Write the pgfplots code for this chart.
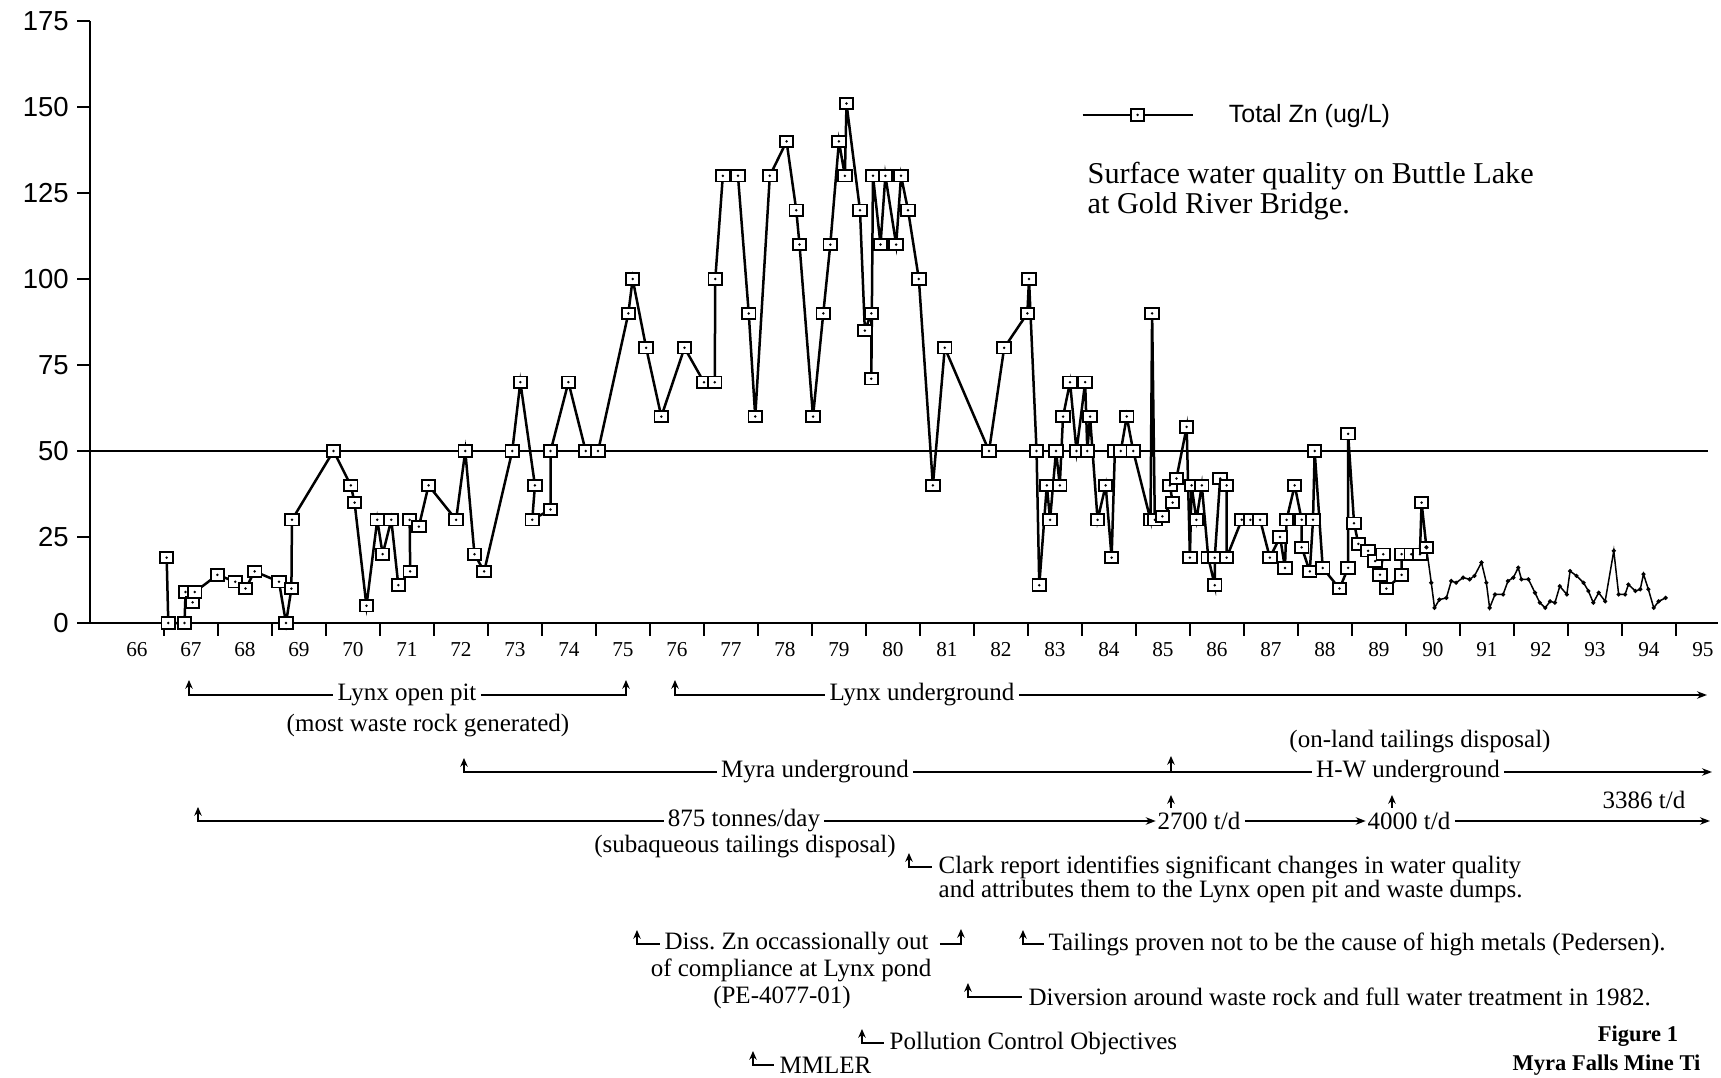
\documentclass[border=0pt]{standalone}
\usepackage{pgfplots}
\pgfplotsset{compat=1.18}
\usepackage{fontspec}
\setmainfont{Liberation Serif}
\newfontfamily\sansf{Liberation Sans}
\usetikzlibrary{arrows.meta}
\frenchspacing

\pgfdeclareplotmark{sqdot}{%
  \pgfpathrectangle{\pgfqpoint{-2.7pt}{-2.3pt}}{\pgfqpoint{5.4pt}{4.6pt}}%
  \pgfusepathqfillstroke
  \pgfscope
  \pgfsetfillcolor{black}%
  \pgfpathcircle{\pgfpointorigin}{0.55pt}%
  \pgfusepathqfill
  \endpgfscope}

\begin{document}
\begin{tikzpicture}
\path[use as bounding box] (0,0) rectangle (688.4pt,-431.2pt);
\begin{axis}[
  at={(36pt,-249.2pt)}, anchor=south west,
  scale only axis, width=651.2pt, height=240.8pt,
  xmin=65.13, xmax=95.28, ymin=0, ymax=175,
  axis x line=bottom, axis y line=left,
  axis line style={-, line width=0.9pt},
  tick align=outside,
  major tick style={line width=0.8pt, black},
  major tick length=5pt,
  xtick={66.5,67.5,...,94.5}, xticklabels={},
  extra x ticks={66,67,68,69,70,71,72,73,74,75,76,77,78,79,80,81,82,83,84,85,86,87,88,89,90,91,92,93,94,95},
  extra x tick labels={66,67,68,69,70,71,72,73,74,75,76,77,78,79,80,81,82,83,84,85,86,87,88,89,90,91,92,93,94,95},
  extra x tick style={major tick length=0pt},
  ytick={0,25,...,175},
  /pgf/number format/assume math mode=true,
  xticklabel style={font=\fontsize{8.5}{9}\selectfont, yshift=-4.3pt},
  yticklabel style={font=\sansf\fontsize{11}{12}\selectfont},
  clip=false,
  legend style={draw=none, fill=none, at={(axis cs:83.48,147.7)}, anchor=west, inner sep=0pt,
    font=\sansf\fontsize{10}{12}\selectfont,
    /tikz/every odd column/.append style={column sep=12pt}},
  legend image code/.code={\draw[#1] (0pt,0pt) -- (44pt,0pt);
    \draw[#1, only marks] plot coordinates {(22pt,0pt)};},
]
% 50 ug/L reference line
\addplot[line width=0.9pt, forget plot] coordinates {(65.13,50) (95.1,50)};
% Total Zn, samples to 1990
\addplot[line width=1pt, mark=sqdot, mark options={fill=white, solid, line width=0.75pt}] coordinates {
(66.55,19) (66.58,0) (66.88,0) (66.90,9) (67.03,6) (67.07,9) (67.49,14) (67.82,12)
(68.01,10) (68.18,15) (68.63,12) (68.76,0) (68.86,10) (68.87,30) (69.64,50) (69.96,40)
(70.03,35) (70.25,5) (70.45,30) (70.55,20) (70.71,30) (70.84,11) (71.06,15) (71.05,30)
(71.22,28) (71.40,40) (71.91,30) (72.08,50) (72.25,20) (72.43,15) (72.95,50) (73.10,70)
(73.37,40) (73.32,30) (73.66,33) (73.66,50) (73.99,70) (74.31,50) (74.54,50) (75.10,90)
(75.18,100) (75.43,80) (75.71,60) (76.14,80) (76.50,70) (76.70,70) (76.71,100) (76.85,130)
(77.13,130) (77.33,90) (77.45,60) (77.72,130) (78.03,140) (78.21,120) (78.27,110) (78.52,60)
(78.71,90) (78.84,110) (79.00,140) (79.11,130) (79.14,151) (79.39,120) (79.48,85) (79.60,90)
(79.60,71) (79.63,130) (79.77,110) (79.86,130) (80.06,110) (80.15,130) (80.28,120) (80.48,100)
(80.74,40) (80.96,80) (81.78,50) (82.06,80) (82.49,90) (82.52,100) (82.66,50) (82.71,11)
(82.85,40) (82.91,30) (83.02,50) (83.09,40) (83.15,60) (83.28,70) (83.40,50) (83.56,70)
(83.60,50) (83.65,60) (83.79,30) (83.94,40) (84.05,19) (84.11,50) (84.22,50) (84.33,60)
(84.45,50) (84.77,30) (84.80,90) (84.85,30) (84.99,31) (85.18,35) (85.13,40) (85.25,42)
(85.44,57) (85.50,19) (85.53,40) (85.62,30) (85.72,40) (85.84,19) (85.96,11) (85.96,19)
(86.06,42) (86.18,40) (86.18,19) (86.46,30) (86.62,30) (86.80,30) (86.98,19) (87.17,25)
(87.26,16) (87.29,30) (87.44,40) (87.57,30) (87.57,22) (87.72,15) (87.78,30) (87.81,50)
(87.96,16) (88.27,10) (88.43,16) (88.43,55) (88.54,29) (88.62,23) (88.80,21) (88.93,18)
(89.08,20) (89.02,14) (89.14,10) (89.42,14) (89.42,20) (89.60,20) (89.76,20) (89.79,35)
(89.88,22)
};
\addlegendentry{Total Zn (ug/L)}
% Total Zn, after 1990
\addplot[line width=0.6pt, mark=*, mark size=0.5pt, forget plot] coordinates {
(89.88,22) (89.97,11.7) (90.03,4.4) (90.12,6.8) (90.25,7.3) (90.34,12.2) (90.43,11.7) (90.56,13.2)
(90.68,12.7) (90.77,13.7) (90.90,17.6) (90.99,11.7) (91.05,4.4) (91.15,8.3) (91.30,8.3) (91.39,12.2)
(91.49,13.2) (91.58,16.1) (91.64,12.7) (91.77,12.7) (91.89,8.8) (91.98,5.9) (92.08,4.4) (92.17,6.3)
(92.26,5.9) (92.35,10.7) (92.48,8.3) (92.54,15.1) (92.66,13.7) (92.79,11.7) (92.88,9.3) (92.97,5.9)
(93.07,8.8) (93.19,6.3) (93.35,21) (93.44,8.3) (93.56,8.3) (93.62,11.2) (93.75,9.3) (93.84,9.8)
(93.90,14.2) (93.99,9.8) (94.09,4.4) (94.18,6.3) (94.31,7.3)
};
\end{axis}

\begin{scope}[x=0.4pt, y=-0.4pt, line width=0.55pt,
  every node/.style={inner sep=0pt, font=\fontsize{10}{11}\selectfont},
  up/.style={-{Stealth[length=3.5pt,width=3pt]}},
  hk/.style={{Stealth[length=3.5pt,width=3pt]}-},
  ra/.style={-{Stealth[length=4pt,width=3pt]}}]
% text at the top right
\node[anchor=west, font=\fontsize{12.1}{13}\selectfont] at (1087,176) {Surface water quality on Buttle Lake};
\node[anchor=west, font=\fontsize{12.1}{13}\selectfont] at (1087,206) {at Gold River Bridge.};
% row 1
\node (a) at (407,695) {Lynx open pit};
\draw[hk] (189,680) -- (189,695) -- ([xshift=-1.5pt]a.west|-0,695);
\draw[up] ([xshift=1.5pt]a.east|-0,695) -- (626,695) -- (626,680);
\node at (428,726) {(most waste rock generated)};
\node (b) at (922,695) {Lynx underground};
\draw[hk] (675,680) -- (675,695) -- ([xshift=-1.5pt]b.west|-0,695);
\draw[ra] ([xshift=1.5pt]b.east|-0,695) -- (1707,695);
% row 2
\node at (1420,742) {(on-land tailings disposal)};
\node (c) at (815,772) {Myra underground};
\node (d) at (1408,772) {H-W underground};
\draw[hk] (464,758) -- (464,772) -- ([xshift=-1.5pt]c.west|-0,772);
\draw ([xshift=1.5pt]c.east|-0,772) -- ([xshift=-1.5pt]d.west|-0,772);
\draw[up, line width=0.8pt] (1171,772) -- (1171,756);
\draw[ra] ([xshift=1.5pt]d.east|-0,772) -- (1712,772);
% row 3
\node (e) at (744,821) {875 tonnes/day};
\node (f) at (1199,821) {2700 t/d};
\node (g) at (1409,821) {4000 t/d};
\draw[hk] (198,807) -- (198,821) -- ([xshift=-1.5pt]e.west|-0,821);
\draw[ra] ([xshift=1.5pt]e.east|-0,821) -- ([xshift=-0.5pt]f.west|-0,821);
\draw[ra] ([xshift=1.5pt]f.east|-0,821) -- ([xshift=-0.5pt]g.west|-0,821);
\draw[ra] ([xshift=1.5pt]g.east|-0,821) -- (1710,821);
\draw[up] (1171,808) -- (1171,795);
\draw[up] (1392,808) -- (1392,795);
\node at (1644,800) {3386 t/d};
\node at (745,847) {(subaqueous tailings disposal)};
% Clark report
\draw[hk] (909,853) -- (909,867) -- (932,867);
\node[anchor=west] at (938,867) {Clark report identifies significant changes in water quality};
\node[anchor=west] at (938,892) {and attributes them to the Lynx open pit and waste dumps.};
% Diss. Zn
\draw[hk] (637,930) -- (637,944) -- (660,944);
\node[anchor=west] at (664,944) {Diss.\ Zn occassionally out};
\draw[up] (940,944) -- (961,944) -- (961,929);
\node at (791,970) {of compliance at Lynx pond};
\node at (782,997) {(PE-4077-01)};
% Tailings
\draw[hk] (1023,930) -- (1023,944) -- (1044,944);
\node[anchor=west] at (1048,944) {Tailings proven not to be the cause of high metals (Pedersen).};
% Diversion
\draw[hk] (968,983) -- (968,997) -- (1022,997);
\node[anchor=west] at (1028,997) {Diversion around waste rock and full water treatment in 1982.};
% Pollution Control Objectives
\draw[hk] (862,1029) -- (862,1043) -- (884,1043);
\node[anchor=west] at (889,1043) {Pollution Control Objectives};
% MMLER
\draw[hk] (753,1051) -- (753,1065) -- (774,1065);
\node[anchor=west] at (779,1065) {MMLER};
% figure caption
\node[font=\bfseries\fontsize{9}{10}\selectfont] at (1638,1036) {Figure 1};
\node[anchor=west, font=\bfseries\fontsize{9}{10}\selectfont] at (1512,1065) {Myra Falls Mine Ti};
\end{scope}
\end{tikzpicture}
\end{document}
